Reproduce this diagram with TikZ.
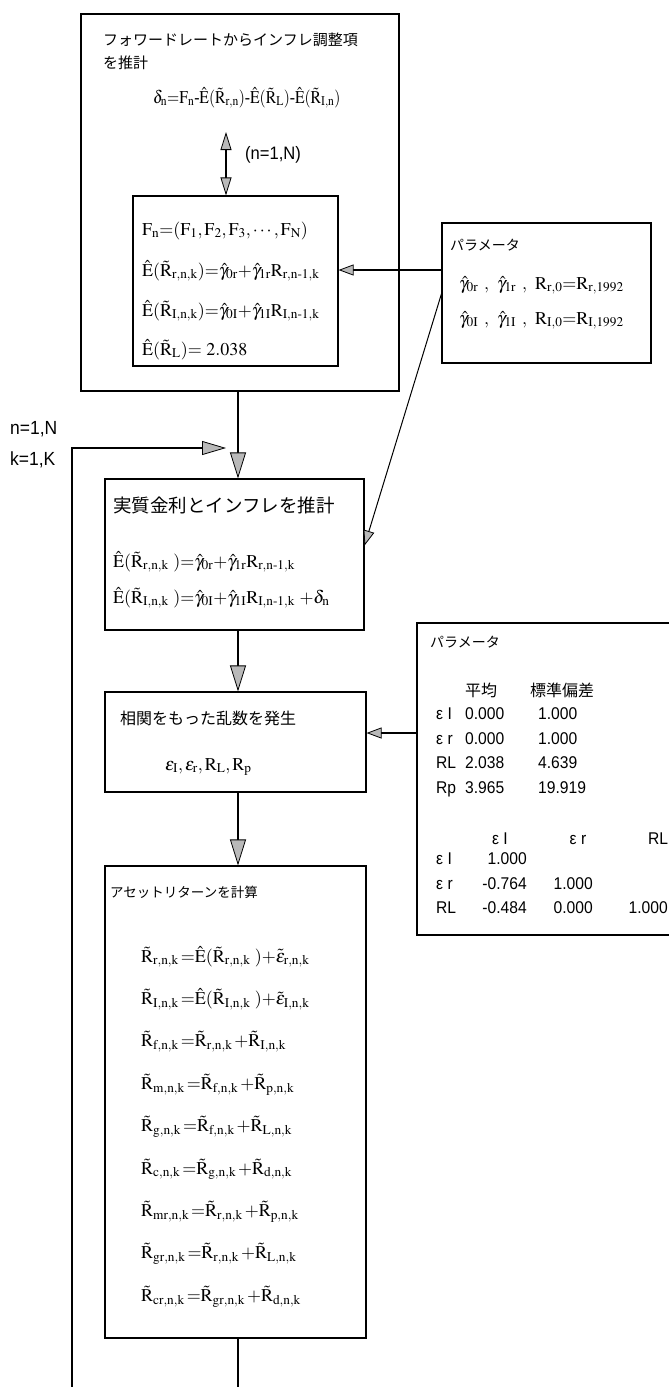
\documentclass[tikz,border=0pt]{standalone}
\usepackage{mathptmx}
\usepackage{fontspec}
\setmainfont{Liberation Serif}
\newfontfamily\jp{Noto Sans CJK JP}
\newfontfamily\ns[FakeStretch=0.92]{Liberation Sans}
\usetikzlibrary{arrows.meta}
\newcommand\Rt{\tilde{\mathrm{R}}}
\newcommand\Rr{\mathrm{R}}
\newcommand\Eh{\hat{\mathrm{E}}}
\newcommand\Fr{\mathrm{F}}
\newcommand\gh{\hat{\gamma}}
\newcommand\su[1]{_{\mathrm{#1}}}
\newcommand\mi{\mbox{-}}
\newcommand\hy{\mathchar"702D\relax}
\newcommand\eq{{=}}
\newcommand\pl{{+}}
\begin{document}
\begin{tikzpicture}[x=1pt,y=-1pt,
  box/.style={draw, line width=1.1pt, inner sep=0pt},
  jt/.style={anchor=west, inner sep=0pt},
  mt/.style={anchor=base west, inner sep=0pt, font=\fontsize{18}{20}\selectfont},
  tb/.style={anchor=base west, inner sep=0pt, font=\ns\fontsize{17}{19}\selectfont},
  tbe/.style={anchor=base east, inner sep=0pt, font=\ns\fontsize{17}{19}\selectfont},
  tbc/.style={anchor=base, inner sep=0pt, font=\ns\fontsize{17}{19}\selectfont},
  mainarr/.style={line width=2.2pt, -{Triangle[length=26pt,width=16pt,line width=0.8pt,fill=gray!55]}},
  looparr/.style={line width=1.8pt, -{Triangle[length=24pt,width=14pt,line width=0.8pt,fill=gray!55]}},
  dblarr/.style={line width=1.2pt, {Triangle[length=18pt,width=11pt,line width=0.8pt,fill=gray!55]}-{Triangle[length=18pt,width=11pt,line width=0.8pt,fill=gray!55]}},
  thinarr/.style={line width=1.2pt, -{Triangle[length=15pt,width=11pt,line width=0.8pt,fill=gray!55]}},
  mainline/.style={line width=2.2pt}
]
\useasboundingbox (0,0) rectangle (669,1387);
\clip (0,0) rectangle (669,1387);

% boxes
\node[box, minimum width=318pt, minimum height=377pt] (b1) at (240,202.5) {};
\node[box, minimum width=205pt, minimum height=170pt] (b1in) at (235.5,281) {};
\node[box, minimum width=209pt, minimum height=140pt] (p1) at (546.5,293) {};
\node[box, minimum width=259pt, minimum height=151pt] (b2) at (234.5,554.5) {};
\node[box, minimum width=261pt, minimum height=100pt] (b3) at (235.5,742) {};
\node[box, minimum width=273pt, minimum height=312pt] (p2) at (553.5,779) {};
\node[box, minimum width=261pt, minimum height=472pt] (b4) at (235.5,1102) {};

% box 1
\node[jt, font=\jp\fontsize{15}{17}\selectfont] (t1a) at (103,40) {フォワードレートからインフレ調整項};
\node[jt, font=\jp\fontsize{15}{17}\selectfont] (t1b) at (103,63) {を推計};
\node[mt] (f0) at (153,103) {\scalebox{0.87}[1]{$\delta\su{n}\eq\Fr\su{n}\mi\Eh(\Rt\su{r,n})\mi\Eh(\Rt\su{L})\mi\Eh(\Rt\su{I,n})$}};
\coordinate (dt) at (226,132);
\draw[dblarr] (dt) -- (dt |- b1in.north);
\node[jt, font=\ns\fontsize{18}{20}\selectfont] (lbn) at (245,155) {(n=1,N)};

\node[mt] (f1) at (142,235) {$\Fr\su{n}\eq(\Fr\su{1},\Fr\su{2},\Fr\su{3},\cdots,\Fr\su{N})$};
\node[mt] (f2) at (142,276) {$\Eh(\Rt\su{r,n,k})\eq\gh\su{0r}\pl\gh\su{1r}\Rr\su{r,n\hy 1,k}$};
\node[mt] (f3) at (142,316) {$\Eh(\Rt\su{I,n,k})\eq\gh\su{0I}\pl\gh\su{1I}\Rr\su{I,n\hy 1,k}$};
\node[mt] (f4) at (142,355) {$\Eh(\Rt\su{L})\eq\ 2.038$};

% parameter box 1
\node[jt, font=\jp\fontsize{14}{16}\selectfont] (tp1) at (450,245) {パラメータ};
\node[mt] (g1) at (459,289) {$\gh\su{0r}\;\,,\;\,\gh\su{1r}\;\,,\;\,\Rr\su{r,0}\eq\Rr\su{r,1992}$};
\node[mt] (g2) at (459,324) {$\gh\su{0I}\;\,,\;\,\gh\su{1I}\;\,,\;\,\Rr\su{I,0}\eq\Rr\su{I,1992}$};

% box 2
\node[jt, font=\jp\fontsize{18.5}{20}\selectfont] (t2) at (113,505) {実質金利とインフレを推計};
\node[mt] (h1) at (113,567) {$\Eh(\Rt\su{r,n,k}\ )\eq\gh\su{0r}\pl\gh\su{1r}\Rr\su{r,n\hy 1,k}$};
\node[mt] (h2) at (113,603) {$\Eh(\Rt\su{I,n,k}\ )\eq\gh\su{0I}\pl\gh\su{1I}\Rr\su{I,n\hy 1,k}\ \pl\delta\su{n}$};

% box 3
\node[jt, font=\jp\fontsize{16}{18}\selectfont] (t3) at (120,718) {相関をもった乱数を発生};
\node[mt] (e1) at (165,770) {$\varepsilon\su{I},\varepsilon\su{r},\Rr\su{L},\Rr\su{p}$};

% parameter box 2
\node[jt, font=\jp\fontsize{14}{16}\selectfont] (tp2) at (430,642) {パラメータ};
\node[anchor=center, inner sep=0pt, font=\jp\fontsize{16}{18}\selectfont] (hm) at (481,690) {平均};
\node[jt, font=\jp\fontsize{16}{18}\selectfont] (hs) at (530,690) {標準偏差};
\node[tb] (r1) at (436,719) {ε I};
\node[tb] (r2) at (436,744) {ε r};
\node[tb] (r3) at (436,768) {RL};
\node[tb] (r4) at (436,793) {Rp};
\node[tb] (m1) at (465,719) {0.000};
\node[tb] (m2) at (465,744) {0.000};
\node[tb] (m3) at (465,768) {2.038};
\node[tb] (m4) at (465,793) {3.965};
\node[tb] (s1) at (538,719) {1.000};
\node[tb] (s2) at (538,744) {1.000};
\node[tb] (s3) at (538,768) {4.639};
\node[tb] (s4) at (538,793) {19.919};
\node[tbc] (c1h) at (500,844) {ε I};
\node[tbc] (c2h) at (578,844) {ε r};
\node[tbc] (c3h) at (658,844) {RL};
\node[tb] (q1) at (436,864) {ε I};
\node[tb] (q2) at (436,889) {ε r};
\node[tb] (q3) at (436,913) {RL};
\node[tbe] (v11) at (527,864) {1.000};
\node[tbe] (v21) at (527,889) {-0.764};
\node[tbe] (v31) at (527,913) {-0.484};
\node[tbe] (v22) at (593,889) {1.000};
\node[tbe] (v32) at (593,913) {0.000};
\node[tbe] (v33) at (668,913) {1.000};

% box 4
\node[jt, font=\jp\fontsize{13.5}{15}\selectfont] (t4) at (110,892) {アセットリターンを計算};
\node[mt] (k1) at (141,962) {$\Rt\su{r,n,k}\,\eq\Eh(\Rt\su{r,n,k}\ )\pl\tilde{\varepsilon}\su{r,n,k}$};
\node[mt] (k2) at (141,1004.4) {$\Rt\su{I,n,k}\,\eq\Eh(\Rt\su{I,n,k}\ )\pl\tilde{\varepsilon}\su{I,n,k}$};
\node[mt] (k3) at (141,1046.8) {$\Rt\su{f,n,k}\,\eq\Rt\su{r,n,k}\,\pl\Rt\su{I,n,k}$};
\node[mt] (k4) at (141,1089.2) {$\Rt\su{m,n,k}\,\eq\Rt\su{f,n,k}\,\pl\Rt\su{p,n,k}$};
\node[mt] (k5) at (141,1131.6) {$\Rt\su{g,n,k}\,\eq\Rt\su{f,n,k}\,\pl\Rt\su{L,n,k}$};
\node[mt] (k6) at (141,1174) {$\Rt\su{c,n,k}\,\eq\Rt\su{g,n,k}\,\pl\Rt\su{d,n,k}$};
\node[mt] (k7) at (141,1216.4) {$\Rt\su{mr,n,k}\,\eq\Rt\su{r,n,k}\,\pl\Rt\su{p,n,k}$};
\node[mt] (k8) at (141,1258.8) {$\Rt\su{gr,n,k}\,\eq\Rt\su{r,n,k}\,\pl\Rt\su{L,n,k}$};
\node[mt] (k9) at (141,1301.2) {$\Rt\su{cr,n,k}\,\eq\Rt\su{gr,n,k}\,\pl\Rt\su{d,n,k}$};

% loop labels
\node[jt, font=\ns\fontsize{19}{21}\selectfont] (ln) at (10,429) {n=1,N};
\node[jt, font=\ns\fontsize{19}{21}\selectfont] (lk) at (10,460) {k=1,K};

% connectors
\coordinate (cx) at (238,0);
\draw[mainarr] (b1.south -| cx) -- (b2.north -| cx);
\draw[mainarr] (b2.south -| cx) -- (b3.north -| cx);
\draw[mainarr] (b3.south -| cx) -- (b4.north -| cx);
\coordinate (sb) at (238,1392);
\draw[mainline] (b4.south -| cx) -- (sb);

\coordinate (a1) at (442,270);
\draw[thinarr] (a1) -- (a1 -| b1in.east);
\coordinate (a2) at (442,292);
\draw[thinarr, line width=1pt] (a2) -- ([yshift=9pt]b2.east);
\coordinate (a3) at (417,733);
\draw[thinarr, line width=1.5pt] (a3) -- (a3 -| b3.east);

\coordinate (lb) at (72,1392);
\coordinate (lt) at (72,448);
\coordinate (lh) at (226,448);
\draw[looparr] (lb) -- (lt) -- (lh);
\end{tikzpicture}
\end{document}
